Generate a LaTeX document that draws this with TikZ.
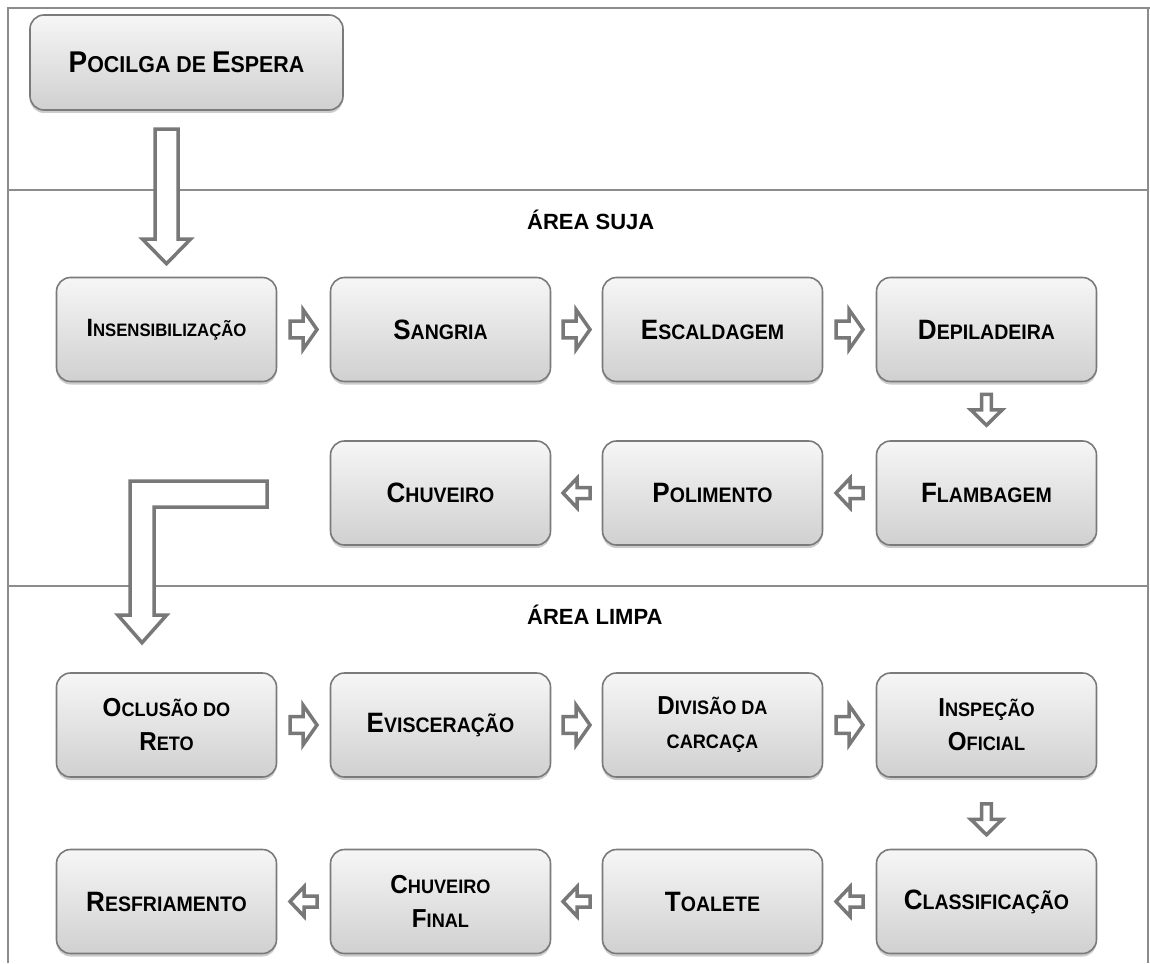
\documentclass[tikz,border=0pt]{standalone}
\usepackage{fontspec}
\setmainfont{Liberation Sans}[FakeStretch=0.93]
\newfontfamily\hdrfont{Liberation Sans}
\usetikzlibrary{calc,shadows}
\definecolor{boxline}{HTML}{7A7A7A}
\definecolor{boxtop}{HTML}{F6F6F6}
\definecolor{boxbot}{HTML}{D0D0D0}
\definecolor{arrgray}{HTML}{787878}
\definecolor{framegray}{HTML}{8C8C8C}
\def\smsize{21}
\newcommand\smc[1]{{\fontsize{\smsize}{\smsize}\selectfont #1}}
\newcommand\harrow[5]{%
  \begin{scope}[shift={($(#1)!0.5!(#2)$)},xscale=#3]
    \draw[blk] (-13.5,-#4) -- (-0.5,-#4) -- (-0.5,-#5) -- (13.5,0) -- (-0.5,#5) -- (-0.5,#4) -- (-13.5,#4) -- cycle;
  \end{scope}}
\newcommand\varrow[5]{%
  \begin{scope}[shift={($(#1)!0.5!(#2)+(0,#5)$)}]
    \draw[blk] (-#3,-15.5) -- (-#3,0) -- (-#4,0) -- (0,15.5) -- (#4,0) -- (#3,0) -- (#3,-15.5) -- cycle;
  \end{scope}}
\begin{document}
\begin{tikzpicture}[x=1pt,y=-1pt,
  box/.style={draw=boxline, line width=1.6pt, rounded corners=14pt,
    top color=boxtop, bottom color=boxbot,
    minimum width=220pt, minimum height=104pt, align=center, inner sep=2pt,
    drop shadow={shadow xshift=0pt, shadow yshift=-3pt, opacity=0.4},
    font={\bfseries\fontsize{28}{35}\selectfont\def\smsize{21}}},
  two/.style={font={\bfseries\fontsize{26}{34}\selectfont\def\smsize{19.5}}},
  midf/.style={font={\bfseries\fontsize{25}{34}\selectfont\def\smsize{18}}},
  topf/.style={font={\bfseries\fontsize{30}{35}\selectfont\def\smsize{23}}},
  hdr/.style={font={\hdrfont\bfseries\fontsize{22}{26}\selectfont}, inner sep=0pt},
  blk/.style={draw=arrgray, line width=3.5pt, fill=white, line join=miter},
  frame/.style={draw=framegray, line width=2pt}]
\useasboundingbox (0,0) rectangle (1150,963);
% frame
\draw[frame] (8,963) -- (8,8) -- (1150,8);
\draw[frame] (1148,8) -- (1148,963);
\draw[frame] (8,190) -- (1148,190);
\draw[frame] (8,586) -- (1148,586);
% headers
\node[hdr, anchor=west] (suja) at (527,220) {ÁREA SUJA};
\node[hdr, anchor=west] (limpa) at (527,615) {ÁREA LIMPA};
% boxes
\node[box, topf, minimum width=313pt, minimum height=95pt] (poc) at (186.5,62.5) {P\smc{OCILGA DE }E\smc{SPERA}};
\node[box, midf] (ins) at (166.5,329.5) {I\smc{NSENSIBILIZAÇÃO}};
\node[box] (san) at (440.5,329.5) {S\smc{ANGRIA}};
\node[box] (esc) at (712.5,329.5) {E\smc{SCALDAGEM}};
\node[box] (dep) at (986.5,329.5) {D\smc{EPILADEIRA}};
\node[box] (chu) at (440.5,493) {C\smc{HUVEIRO}};
\node[box] (pol) at (712.5,493) {P\smc{OLIMENTO}};
\node[box] (fla) at (986.5,493) {F\smc{LAMBAGEM}};
\node[box, two] (ocl) at (166.5,725) {O\smc{CLUSÃO DO}\\R\smc{ETO}};
\node[box] (evi) at (440.5,725) {E\smc{VISCERAÇÃO}};
\node[box, two] (div) at (712.5,725) {D\smc{IVISÃO DA}\\\smc{CARCAÇA}};
\node[box, two] (insp) at (986.5,725) {I\smc{NSPEÇÃO}\\O\smc{FICIAL}};
\node[box] (cla) at (986.5,901.5) {C\smc{LASSIFICAÇÃO}};
\node[box] (toa) at (712.5,901.5) {T\smc{OALETE}};
\node[box, two] (chf) at (440.5,901.5) {C\smc{HUVEIRO}\\F\smc{INAL}};
\node[box] (res) at (166.5,901.5) {R\smc{ESFRIAMENTO}};
% big arrows
\draw[blk] ($(ins.north)+(-11.5,-147.5)$) -- ($(ins.north)+(11.5,-147.5)$) -- ($(ins.north)+(11.5,-37.5)$) -- ($(ins.north)+(24,-37.5)$) -- ($(ins.north)+(0,-13)$) -- ($(ins.north)+(-24,-37.5)$) -- ($(ins.north)+(-11.5,-37.5)$) -- cycle;
\draw[blk] ($(ocl.north)+(100.5,-191)$) -- ($(ocl.north)+(-36.5,-191)$) -- ($(ocl.north)+(-36.5,-57)$) -- ($(ocl.north)+(-48.5,-57)$) -- ($(ocl.north)+(-24.5,-29.5)$) -- ($(ocl.north)+(0,-57)$) -- ($(ocl.north)+(-12.5,-57)$) -- ($(ocl.north)+(-12.5,-165)$) -- ($(ocl.north)+(100.5,-165)$) -- cycle;
% small arrows
\harrow{ins}{san}{1}{8.3}{20}
\harrow{san}{esc}{1}{8.3}{20}
\harrow{esc}{dep}{1}{8.3}{20}
\varrow{dep}{fla}{4.8}{15.8}{-1.5}
\harrow{fla}{pol}{-1}{5.5}{14.8}
\harrow{pol}{chu}{-1}{5.5}{14.8}
\harrow{ocl}{evi}{1}{8.3}{20}
\harrow{evi}{div}{1}{8.3}{20}
\harrow{div}{insp}{1}{8.3}{20}
\varrow{insp}{cla}{4.8}{15.8}{6}
\harrow{cla}{toa}{-1}{5.5}{14.8}
\harrow{toa}{chf}{-1}{5.5}{14.8}
\harrow{chf}{res}{-1}{5.5}{14.8}
\end{tikzpicture}
\end{document}
